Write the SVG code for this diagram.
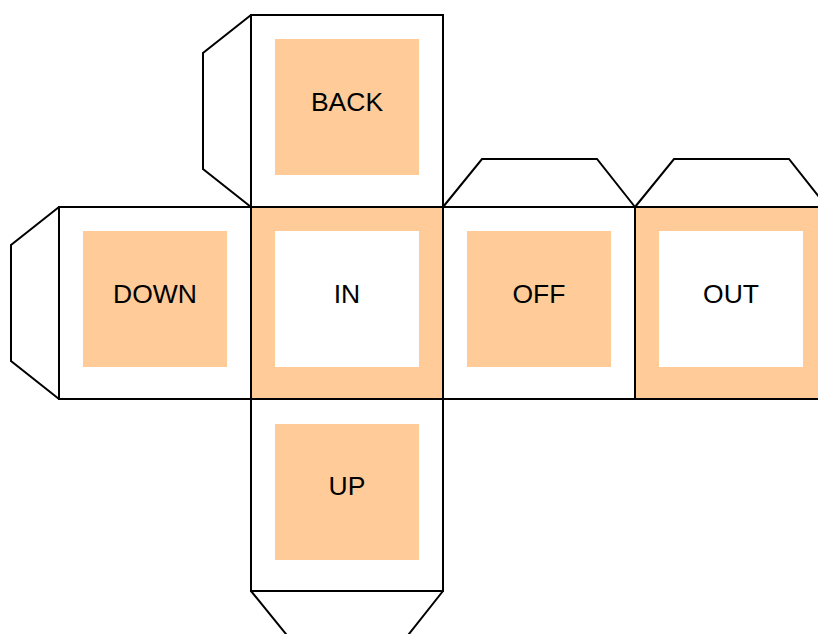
<svg xmlns="http://www.w3.org/2000/svg" width="818" height="634" viewBox="0 0 818 634">
<style>
.ln{fill:none;stroke:#000;stroke-width:2;stroke-linejoin:miter}
.face{stroke:#000;stroke-width:2}
.w{fill:#fff}
.o{fill:#FFCC99}
.t{font-family:"Liberation Sans",Arial,sans-serif;font-size:26.5px;text-anchor:middle;fill:#000}
</style>
<rect width="818" height="634" fill="#fff"/>
<g id="tabs">
<polyline class="ln" points="251,15 203,53 203,169 251,207"/>
<polyline class="ln" points="59,207 11,245 11,361 59,399"/>
<polyline class="ln" points="443,207 482,159 597,159 635,207"/>
<polyline class="ln" points="635,207 674,159 789,159 827,207"/>
<polyline class="ln" points="251,591 290,639 405,639 443,591"/>
</g>
<g id="back">
<rect class="face w" x="251" y="15" width="192" height="192"/>
<rect class="o" x="275" y="39" width="144" height="136"/>
<text class="t" x="347" y="110.5">BACK</text>
</g>
<g id="down">
<rect class="face w" x="59" y="207" width="192" height="192"/>
<rect class="o" x="83" y="231" width="144" height="136"/>
<text class="t" x="155" y="302.5">DOWN</text>
</g>
<g id="in">
<rect class="face o" x="251" y="207" width="192" height="192"/>
<rect class="w" x="275" y="231" width="144" height="136"/>
<text class="t" x="347" y="302.5">IN</text>
</g>
<g id="off">
<rect class="face w" x="443" y="207" width="192" height="192"/>
<rect class="o" x="467" y="231" width="144" height="136"/>
<text class="t" x="539" y="302.5">OFF</text>
</g>
<g id="out">
<rect class="face o" x="635" y="207" width="192" height="192"/>
<rect class="w" x="659" y="231" width="144" height="136"/>
<text class="t" x="731" y="302.5">OUT</text>
</g>
<g id="up">
<rect class="face w" x="251" y="399" width="192" height="192"/>
<rect class="o" x="275" y="424" width="144" height="136"/>
<text class="t" x="347" y="494.5">UP</text>
</g>
</svg>
